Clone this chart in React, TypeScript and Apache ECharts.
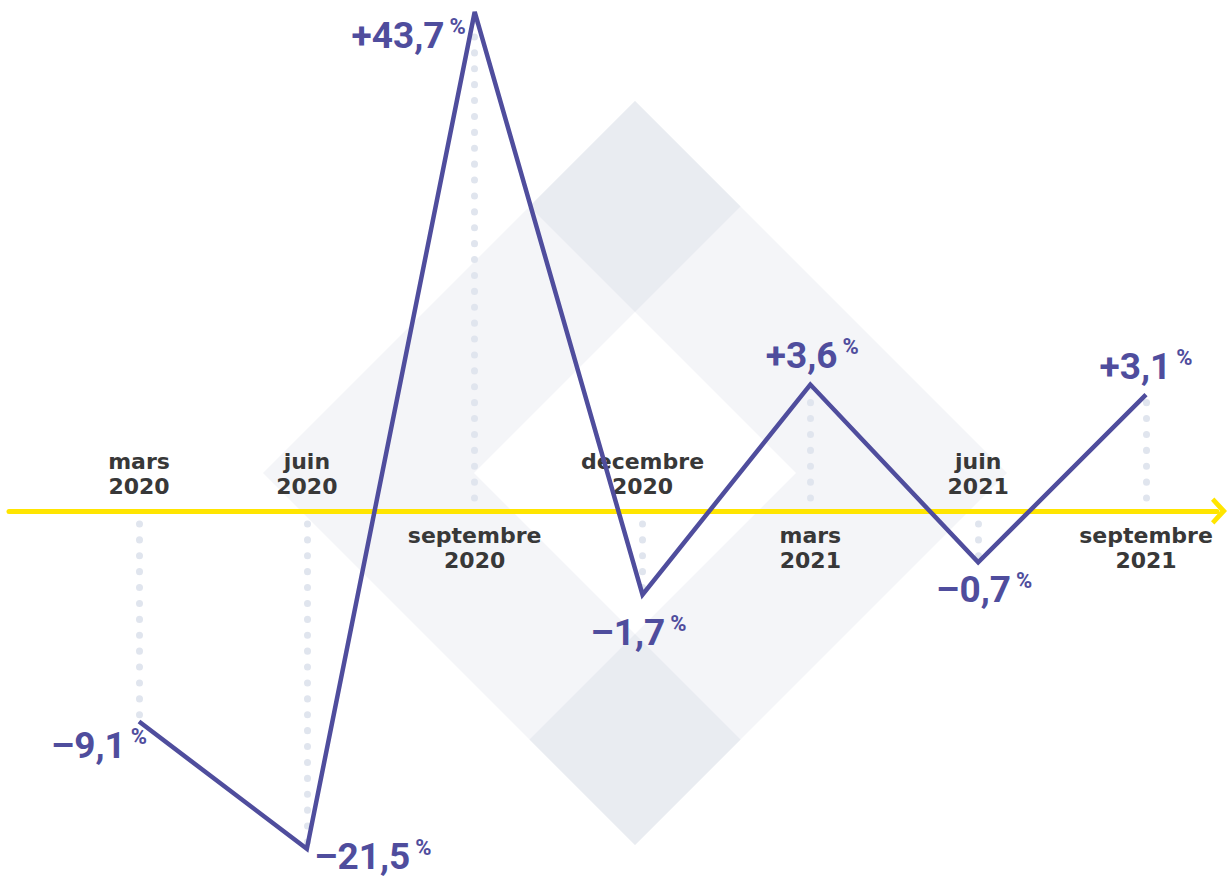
import React, { useEffect, useRef } from 'react';
import * as echarts from 'echarts';

// Quarterly change (%) as written on the chart
const periods = ['mars\n2020', 'juin\n2020', 'septembre\n2020', 'decembre\n2020', 'mars\n2021', 'juin\n2021', 'septembre\n2021'];
const changes = [-9.1, -21.5, 43.7, -1.7, 3.6, -0.7, 3.1];

// Style: where each value label sits relative to its point (px offsets)
const valueLabelOffsets: number[][] = [[-40, 24], [66, 8], [-66, 24], [-4, 38], [2, -29], [6, 27], [0, -28]];

// The original graphic uses a compressed (power) vertical scale
const SCALE_POW = 0.55;
const compress = (v: number) => Math.sign(v) * Math.pow(Math.abs(v), SCALE_POW);
const fmtValue = (v: number) => (v > 0 ? '+' : '\u2013') + Math.abs(v).toFixed(1).replace('.', ',');

const PURPLE = '#4f4d9d';
const DARK = '#383838';
const YELLOW = '#ffe500';
const DOT = '#e0e5ee';

function diamond(cx: number, cy: number, r: number, fill: string, z: number) {
  return {
    type: 'polygon',
    z,
    silent: true,
    shape: { points: [[cx, cy - r], [cx + r, cy], [cx, cy + r], [cx - r, cy]] },
    style: { fill },
  };
}

export default function App() {
  const ref = useRef<HTMLDivElement>(null);
  useEffect(() => {
    const chart = echarts.init(ref.current!, null, { renderer: 'svg' });
    const option: any = {
      animation: false,
      backgroundColor: '#ffffff',
      graphic: [
        diamond(635, 473, 372, '#f4f5f8', -10),
        diamond(635, 206.5, 105.5, '#e9ecf1', -9),
        diamond(635, 739.5, 105.5, '#e9ecf1', -9),
        diamond(635, 473, 161, '#ffffff', -9),
      ],
      grid: { left: 9, right: 10, top: 0, bottom: 0, containLabel: false },
      xAxis: {
        type: 'value',
        min: -0.7746,
        max: 6.423,
        z: 1,
        axisLine: {
          show: true,
          onZero: true,
          symbol: ['none', 'path://M0,13 L14,0 L28,13 L24.5,16.5 L14,7 L3.5,16.5 Z'],
          symbolSize: [28, 16],
          symbolOffset: [0, 2],
          lineStyle: { color: YELLOW, width: 5 },
        },
        axisTick: { show: false },
        axisLabel: { show: false },
        splitLine: { show: false },
      },
      yAxis: {
        type: 'value',
        min: -5.888,
        max: 8.176,
        axisLine: { show: false },
        axisTick: { show: false },
        axisLabel: { show: false },
        splitLine: { show: false },
      },
      series: [
        {
          type: 'scatter',
          z: 2,
          symbolSize: 0,
          silent: true,
          itemStyle: { opacity: 1 },
          data: periods.map((p, i) => ({
            value: [i, 0],
            label: { position: changes[i] < 0 ? 'top' : 'bottom' },
          })),
          label: {
            show: true,
            distance: 12,
            formatter: (p: any) => periods[p.dataIndex],
            fontFamily: 'DejaVu Sans',
            fontWeight: 'bold',
            fontSize: 22,
            lineHeight: 25,
            color: DARK,
            opacity: 1,
            align: 'center',
          },
          markLine: {
            z: 1,
            silent: true,
            symbol: ['none', 'none'],
            label: { show: false },
            emphasis: { disabled: true },
            lineStyle: { color: DOT, width: 7, type: [0.1, 15.8], dashOffset: 2.9, cap: 'round', opacity: 1 },
            data: changes.map((v, i) => [{ coord: [i, 0] }, { coord: [i, compress(v)] }]),
          },
        },
        {
          type: 'line',
          z: 3,
          silent: true,
          symbol: 'circle',
          symbolSize: 0.01,
          showSymbol: true,
          lineStyle: { color: PURPLE, width: 4.5, join: 'miter', miterLimit: 10 },
          itemStyle: { color: PURPLE },
          data: changes.map((v, i) => ({
            value: [i, compress(v)],
            label: { offset: valueLabelOffsets[i] },
          })),
          label: {
            show: true,
            position: 'inside',
            formatter: (p: any) => `{v|${fmtValue(changes[p.dataIndex])}}{p|%}`,
            rich: {
              v: {
                fontFamily: 'Roboto, sans-serif',
                fontWeight: 'bold',
                fontSize: 37,
                lineHeight: 40,
                color: PURPLE,
              },
              p: {
                fontFamily: 'Roboto, sans-serif',
                fontWeight: 'bold',
                fontSize: 22,
                lineHeight: 26,
                verticalAlign: 'top',
                padding: [0, 0, 0, 5],
                color: PURPLE,
              },
            },
          },
        },
      ],
    };
    chart.setOption(option);
    return () => chart.dispose();
  }, []);
  return (
    <div
      ref={ref}
      style={{ position: 'fixed', left: 0, top: 0, width: 1227, height: 879, background: '#fff' }}
    />
  );
}
